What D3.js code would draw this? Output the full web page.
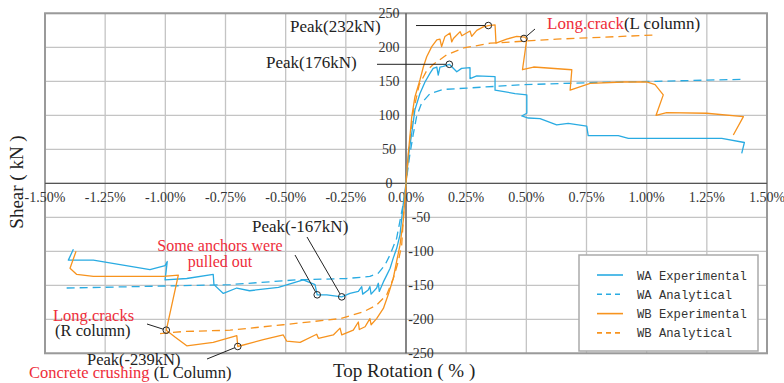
<!DOCTYPE html>
<html>
<head>
<meta charset="utf-8">
<script src="https://cdn.jsdelivr.net/npm/d3@7"></script>
<style>
  body { margin: 0; background: #fff; }
  svg { display: block; }
</style>
</head>
<body>
<svg id="chart" width="784" height="383" font-family="Liberation Serif, DejaVu Serif, serif"></svg>
<script>
// tick values
const xTicks = [-1.5, -1.25, -1, -0.75, -0.5, -0.25, 0, 0.25, 0.5, 0.75, 1, 1.25, 1.5];
const yTicks = [-250, -200, -150, -100, -50, 0, 50, 100, 150, 200, 250];

// [top rotation %, shear kN]
const waExperimental = [
  [-1.382, -97], [-1.403, -113], [-1.299, -113], [-1.064, -127], [-1.001, -121], [-0.992, -115],
  [-1.001, -142], [-0.911, -140], [-0.801, -134], [-0.798, -149], [-0.759, -162], [-0.703, -154],
  [-0.65, -158], [-0.53, -153], [-0.427, -142], [-0.378, -149], [-0.369, -164], [-0.329, -164],
  [-0.267, -167], [-0.233, -162], [-0.198, -159], [-0.184, -152], [-0.180, -163], [-0.157, -157],
  [-0.150, -152], [-0.145, -163], [-0.122, -154], [-0.115, -147], [-0.111, -159], [-0.094, -145],
  [-0.080, -135], [-0.066, -125], [-0.053, -110], [-0.039, -96], [-0.025, -76], [-0.012, -32], [0, 0],
  [0.0096, 39], [0.024, 74], [0.037, 108], [0.058, 132], [0.079, 149], [0.100, 162], [0.113, 169],
  [0.128, 171], [0.134, 159], [0.141, 171], [0.155, 172], [0.180, 175], [0.211, 164], [0.231, 169],
  [0.266, 170], [0.266, 154], [0.294, 158], [0.370, 157], [0.370, 137], [0.453, 132], [0.502, 130],
  [0.502, 103], [0.481, 99], [0.508, 96], [0.557, 95], [0.626, 86], [0.674, 88], [0.751, 84],
  [0.757, 70], [0.882, 70], [0.924, 66], [1.312, 66], [1.406, 60], [1.395, 44]
];

const waAnalytical = [
  [-1.410, -154], [-0.994, -151], [-0.731, -149], [-0.454, -142], [-0.246, -140], [-0.150, -137],
  [-0.115, -132], [-0.087, -120], [-0.066, -105], [-0.039, -81], [-0.018, -42], [-0.004, -17], [0, 0],
  [0.015, 40], [0.030, 72], [0.044, 98], [0.065, 118], [0.100, 132], [0.155, 138], [0.252, 140],
  [0.487, 145], [0.765, 148], [1.042, 150], [1.409, 153]
];

const wbExperimental = [
  [-1.371, -100], [-1.396, -125], [-1.368, -134], [-1.299, -137], [-1.008, -137], [-0.946, -135],
  [-0.996, -216], [-0.960, -226], [-0.911, -239], [-0.801, -234], [-0.703, -224], [-0.699, -240],
  [-0.593, -230], [-0.510, -223], [-0.496, -232], [-0.440, -234], [-0.371, -222], [-0.364, -228],
  [-0.302, -223], [-0.274, -213], [-0.267, -223], [-0.219, -216], [-0.198, -204], [-0.194, -215],
  [-0.170, -211], [-0.150, -199], [-0.145, -208], [-0.122, -199], [-0.094, -184], [-0.074, -164],
  [-0.053, -140], [-0.039, -115], [-0.025, -91], [-0.011, -54], [0, 0],
  [0.0097, 44], [0.024, 98], [0.037, 127], [0.058, 152], [0.072, 171], [0.086, 186], [0.107, 201],
  [0.128, 211], [0.141, 212], [0.148, 201], [0.162, 216], [0.183, 221], [0.190, 208], [0.197, 213],
  [0.225, 223], [0.232, 217], [0.266, 224], [0.273, 216], [0.294, 225], [0.321, 230], [0.342, 232],
  [0.370, 233], [0.374, 206], [0.418, 212], [0.460, 216], [0.494, 215], [0.502, 212], [0.484, 167],
  [0.530, 171], [0.689, 167], [0.682, 137], [0.765, 147], [0.903, 149], [1.000, 149], [1.035, 145],
  [1.069, 130], [1.039, 100], [1.083, 104], [1.249, 103], [1.402, 98], [1.360, 71]
];

const wbAnalytical = [
  [-1.022, -221], [-0.925, -218], [-0.731, -216], [-0.510, -208], [-0.274, -199], [-0.177, -189],
  [-0.122, -179], [-0.080, -164], [-0.053, -140], [-0.032, -115], [-0.018, -91], [-0.010, -47], [0, 0],
  [0.012, 50], [0.030, 105], [0.055, 145], [0.085, 165], [0.114, 175], [0.169, 189], [0.240, 199],
  [0.350, 206], [0.490, 209], [0.626, 212], [1.028, 218]
];

const seriesNames = ['WA Experimental', 'WA Analytical', 'WB Experimental', 'WB Analytical'];

// marked points
const peakPoints = [
  { label: 'peak232', p: [0.342, 232] },
  { label: 'peak176', p: [0.180, 175] },
  { label: 'crackL', p: [0.490, 213] },
  { label: 'anchor', p: [-0.369, -164] },
  { label: 'peak167', p: [-0.267, -167] },
  { label: 'crackR', p: [-0.996, -216] },
  { label: 'peak239', p: [-0.699, -240] }
];

const blue = '#29abe2', orange = '#f7931e', red = '#ee2d3a';

const svg = d3.select('#chart');
const x = d3.scaleLinear().domain([-1.5, 1.5]).range([45, 767]);
const y = d3.scaleLinear().domain([-250, 250]).range([353.3, 13.3]);

// grid
svg.append('g').selectAll('line').data(xTicks).enter().append('line')
  .attr('x1', d => x(d)).attr('x2', d => x(d))
  .attr('y1', y(250)).attr('y2', y(-250))
  .attr('stroke', '#c4c4c4').attr('stroke-width', 1.3);
svg.append('g').selectAll('line').data(yTicks).enter().append('line')
  .attr('x1', x(-1.5)).attr('x2', x(1.5))
  .attr('y1', d => y(d)).attr('y2', d => y(d))
  .attr('stroke', '#c4c4c4').attr('stroke-width', 1.3);

// frame
svg.append('rect')
  .attr('x', x(-1.5)).attr('y', y(250))
  .attr('width', x(1.5) - x(-1.5)).attr('height', y(-250) - y(250))
  .attr('fill', 'none').attr('stroke', '#9a9a9a').attr('stroke-width', 2);

// zero axes
svg.append('line').attr('x1', x(-1.5)).attr('x2', x(1.5)).attr('y1', y(0)).attr('y2', y(0))
  .attr('stroke', '#555').attr('stroke-width', 1.2);
svg.append('line').attr('x1', x(0)).attr('x2', x(0)).attr('y1', y(250)).attr('y2', y(-250))
  .attr('stroke', '#333').attr('stroke-width', 1);

// tick labels
svg.append('g').selectAll('text').data(xTicks).enter().append('text')
  .attr('x', d => x(d)).attr('y', y(0) + 18.5)
  .attr('text-anchor', 'middle').attr('font-size', 14).attr('fill', '#333')
  .text(d => d.toFixed(2) + '%');
svg.append('g').selectAll('text').data(yTicks).enter().append('text')
  .attr('x', d => d < 0 ? x(0) + 15 : x(0) - 17)
  .attr('y', d => y(d) + 4.7)
  .attr('text-anchor', 'middle').attr('font-size', 14).attr('fill', '#333')
  .text(d => d);

// curves
const line = d3.line().x(d => x(d[0])).y(d => y(d[1]));
const curves = [
  { data: waAnalytical, color: blue, dash: '8,5' },
  { data: wbAnalytical, color: orange, dash: '8,5' },
  { data: waExperimental, color: blue, dash: null },
  { data: wbExperimental, color: orange, dash: null }
];
curves.forEach(c => {
  svg.append('path').datum(c.data)
    .attr('d', line)
    .attr('fill', 'none')
    .attr('stroke', c.color)
    .attr('stroke-width', 1.3)
    .attr('stroke-linejoin', 'round')
    .attr('stroke-dasharray', c.dash);
});

// annotations
const ink = '#222';
const pt = Object.fromEntries(peakPoints.map(d => [d.label, d.p]));
function leader(x1, y1, p) {
  const px = x(p[0]), py = y(p[1]);
  const dx = px - x1, dy = py - y1, len = Math.hypot(dx, dy);
  svg.append('line').attr('x1', x1).attr('y1', y1)
    .attr('x2', px - dx / len * 3.3).attr('y2', py - dy / len * 3.3)
    .attr('stroke', ink).attr('stroke-width', 1);
}
function outward(p, x2, y2) {
  const px = x(p[0]), py = y(p[1]);
  const dx = x2 - px, dy = y2 - py, len = Math.hypot(dx, dy);
  svg.append('line').attr('x1', px + dx / len * 3.3).attr('y1', py + dy / len * 3.3)
    .attr('x2', x2).attr('y2', y2).attr('stroke', ink).attr('stroke-width', 1);
}
leader(416, y(pt.peak232[1]), pt.peak232);
leader(377, y(pt.peak176[1]), pt.peak176);
outward(pt.crackL, 535, 29);
leader(295, 255, pt.anchor);
leader(307, 237, pt.peak167);
leader(147, 324, pt.crackR);
outward(pt.peak239, 207, 359);

svg.append('g').selectAll('circle').data(peakPoints).enter().append('circle')
  .attr('cx', d => x(d.p[0])).attr('cy', d => y(d.p[1])).attr('r', 3.3)
  .attr('fill', 'none').attr('stroke', ink).attr('stroke-width', 1);

function label(tx, ty, parts, size, anchor) {
  const t = svg.append('text').attr('x', tx).attr('y', ty)
    .attr('font-size', size).attr('text-anchor', anchor || 'start');
  parts.forEach(([s, c]) => t.append('tspan').attr('fill', c).text(s));
}
label(290, 31.5, [['Peak(232kN)', ink]], 17);
label(266, 68, [['Peak(176kN)', ink]], 17);
label(547, 29, [['Long.crack', red], ['(L column)', ink]], 17);
label(252, 232, [['Peak(-167kN)', ink]], 17);
label(220, 251, [['Some anchors were', red]], 16, 'middle');
label(220, 266.5, [['pulled out', red]], 16, 'middle');
label(53, 320.5, [['Long.cracks', red]], 16.5);
label(55, 336, [['(R column)', ink]], 16.5);
label(87, 364.5, [['Peak(-239kN)', ink]], 16.5);
label(29, 378, [['Concrete crushing', red], [' (L Column)', ink]], 16.5);

// axis titles
svg.append('text').attr('x', 333).attr('y', 377).attr('font-size', 19).attr('fill', '#222')
  .text('Top Rotation ( % )');
svg.append('text').attr('transform', 'translate(23,182) rotate(-90)')
  .attr('text-anchor', 'middle').attr('font-size', 19).attr('fill', '#222')
  .text('Shear ( kN )');

// legend
const lg = svg.append('g');
lg.append('rect').attr('x', 579).attr('y', 255).attr('width', 179).attr('height', 96)
  .attr('fill', '#fff').attr('stroke', '#aaa').attr('stroke-width', 1.5);
const legendStyle = [
  { color: blue, dash: null }, { color: blue, dash: '5,4' },
  { color: orange, dash: null }, { color: orange, dash: '5,4' }
];
seriesNames.forEach((name, i) => {
  const cy = 275 + i * 19.3;
  lg.append('line').attr('x1', 597).attr('x2', 623).attr('y1', cy).attr('y2', cy)
    .attr('stroke', legendStyle[i].color).attr('stroke-width', 1.6)
    .attr('stroke-dasharray', legendStyle[i].dash);
  lg.append('text').attr('x', 637).attr('y', cy + 4.5)
    .attr('font-family', 'Liberation Mono, DejaVu Sans Mono, monospace').attr('font-size', 12.2)
    .attr('fill', '#333').text(name);
});
</script>
</body>
</html>
